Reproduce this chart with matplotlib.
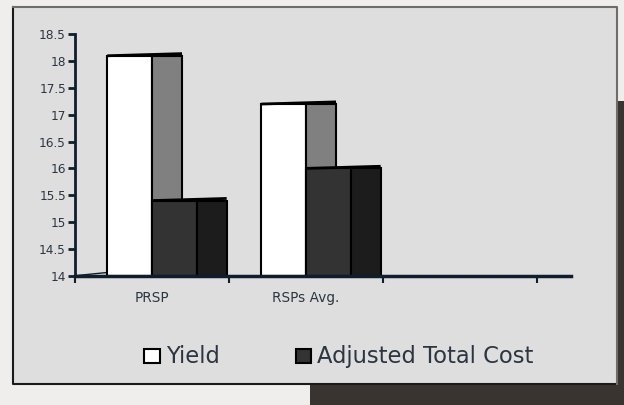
import matplotlib.pyplot as plt
from matplotlib.patches import Rectangle

categories = ['PRSP', 'RSPs Avg.']
yield_vals = [18.1, 17.2]
cost_vals = [15.4, 16.0]
series_names = ['Yield', 'Adjusted Total Cost']
yticks = [14, 14.5, 15, 15.5, 16, 16.5, 17, 17.5, 18, 18.5]

W, H = 624, 405
fig = plt.figure(figsize=(W / 100, H / 100), dpi=100)
fig.patch.set_facecolor('#efeeec')

def px(x0, y0, x1, y1):
    # pixel box (top-left origin) -> figure fraction rect
    return (x0 / W, 1 - y1 / H), (x1 - x0) / W, (y1 - y0) / H

# shadow block and chart panel
xy, w, h = px(310, 101, W, H)
fig.patches.append(Rectangle(xy, w, h, transform=fig.transFigure,
                             facecolor='#3a3431', edgecolor='none', zorder=-3))
xy, w, h = px(12.5, 6.5, 617, 384)
fig.patches.append(Rectangle(xy, w, h, transform=fig.transFigure,
                             facecolor='#dedede', edgecolor='none', zorder=-2))
fig.add_artist(plt.Line2D([12.5 / W, 12.5 / W, 617 / W], [1 - 6.5 / H, 1 - 384 / H, 1 - 384 / H],
                          transform=fig.transFigure, color='#1a1a1a', lw=1.5, zorder=-1))
fig.add_artist(plt.Line2D([12.5 / W, 617 / W, 617 / W], [1 - 6.5 / H, 1 - 6.5 / H, 1 - 384 / H],
                          transform=fig.transFigure, color='#6f6d6a', lw=1.5, zorder=-1))

ax = fig.add_axes([75 / W, 1 - 275.7 / H, 154 * 3.22 / W, (275.7 - 34.3) / H])
ax.set_facecolor('none')
ax.set_xlim(0, 3.22)
ax.set_ylim(14, 18.5)

base = 14
front_w = 0.29
depth = 0.195
offsets = [0.21, 0.50]
fronts = ['white', '#333333']
sides = ['#808080', '#1c1c1c']

# floor back edge, left of the first bar
ax.plot([0, 0.21], [base, base + 0.06], color='#0f1e2c', lw=1, zorder=1)

for s, vals in enumerate([yield_vals, cost_vals]):
    xs = [i + offsets[s] for i in range(len(categories))]
    ax.bar(xs, [v - base for v in vals], bottom=base, width=front_w, align='edge',
           color=fronts[s], edgecolor='black', lw=1.5, zorder=2 + s)
    ax.bar([x + front_w for x in xs], [v - base for v in vals], bottom=base, width=depth,
           align='edge', color=sides[s], edgecolor='black', lw=1.5, zorder=2 + s)
    for x, v in zip(xs, vals):
        ax.plot([x, x + front_w + depth], [v, v + 0.04], color='black', lw=2,
                solid_capstyle='butt', zorder=2 + s)

axis_col = '#0f1e2c'
text_col = '#2c3541'
for side in ['top', 'right']:
    ax.spines[side].set_visible(False)
ax.spines['left'].set_color(axis_col)
ax.spines['left'].set_linewidth(2)
ax.spines['bottom'].set_color(axis_col)
ax.spines['bottom'].set_linewidth(2.5)
ax.spines['bottom'].set_zorder(5)

ax.set_yticks(yticks)
ax.set_yticklabels([f'{t:g}' for t in yticks])
ax.tick_params(axis='y', direction='out', length=5, width=2, color=axis_col,
               labelsize=8.7, labelcolor=text_col, pad=1.5)
ax.set_xticks([0, 1, 2, 3])
ax.set_xticklabels([])
ax.set_xticks([0.5, 1.5], categories, minor=True)
ax.tick_params(axis='x', which='major', direction='out', length=5, width=1.5, color=axis_col)
ax.tick_params(axis='x', which='minor', length=0, labelsize=9.8, labelcolor=text_col, pad=11)

# legend
for (x0, x1), col, name, tx in [((144, 160), 'white', series_names[0], 166),
                                ((296, 311), '#333333', series_names[1], 317)]:
    xy, w, h = px(x0, 349, x1, 363)
    fig.patches.append(Rectangle(xy, w, h, transform=fig.transFigure,
                                 facecolor=col, edgecolor='black', lw=1.5))
    fig.text(tx / W, 1 - 363 / H, name, fontsize=16.3, color=text_col, va='baseline')

fig.savefig('out.png', dpi=100)
